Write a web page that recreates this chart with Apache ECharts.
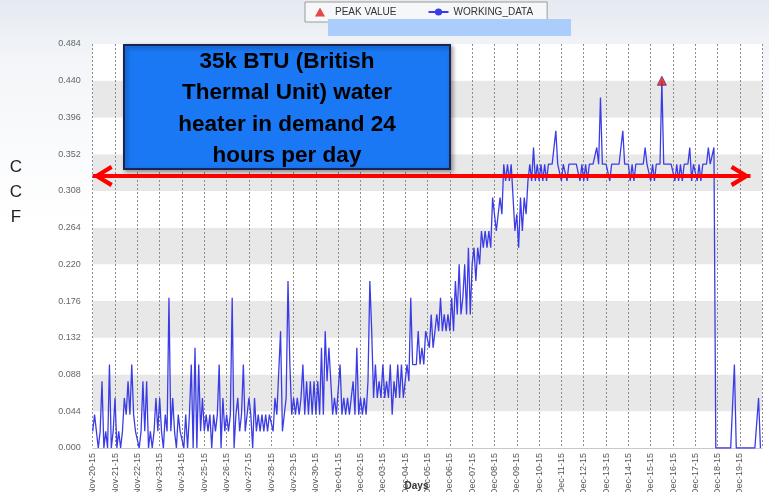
<!DOCTYPE html>
<html><head><meta charset="utf-8">
<script src="https://cdn.jsdelivr.net/npm/echarts@6/dist/echarts.min.js"></script>
<style>html,body{margin:0;padding:0;background:#fff;}#c{width:769px;height:492px;}</style>
</head><body><div id="c"></div>
<script>
// ---- data ----
const dayLabels = ['Nov-20-15','Nov-21-15','Nov-22-15','Nov-23-15','Nov-24-15','Nov-25-15','Nov-26-15','Nov-27-15','Nov-28-15','Nov-29-15','Nov-30-15',
  'Dec-01-15','Dec-02-15','Dec-03-15','Dec-04-15','Dec-05-15','Dec-06-15','Dec-07-15','Dec-08-15','Dec-09-15','Dec-10-15',
  'Dec-11-15','Dec-12-15','Dec-13-15','Dec-14-15','Dec-15-15','Dec-16-15','Dec-17-15','Dec-18-15','Dec-19-15'];
const samplesPerDay = 12; // one reading every 2 hours
const workingData = [
  0.02,0.04,0.02,0,0.02,0.08,0,0.02,0,0.10,0,0.02,
  0.06,0,0.02,0,0.02,0.06,0.04,0.08,0.04,0.10,0.04,0.02,
  0.02,0,0.02,0.08,0.02,0.08,0,0.02,0,0.02,0.06,0.02,
  0.06,0.02,0,0.04,0.02,0.18,0.02,0.06,0.02,0,0.04,0.02,
  0.02,0,0.04,0,0.04,0.10,0,0.12,0,0.10,0.02,0.06,
  0.02,0.04,0.02,0.04,0,0.04,0.02,0.04,0.10,0,0.06,0.02,
  0.04,0.02,0.04,0.18,0,0.04,0.06,0.02,0.04,0.10,0.02,0.04,
  0.06,0.04,0,0.06,0.02,0.04,0.02,0.04,0.02,0.04,0.02,0.04,
  0.04,0.02,0.06,0.04,0.04,0.14,0.02,0.04,0.06,0.20,0.10,0.04,
  0.06,0.04,0.06,0.04,0.06,0.10,0.04,0.08,0.04,0.08,0.04,0.08,
  0.04,0.08,0.04,0.12,0.04,0.14,0.08,0.12,0.08,0.04,0.06,0.04,
  0.04,0.10,0.04,0.06,0.04,0.06,0.04,0.06,0.08,0.04,0.12,0.04,
  0.06,0.04,0.06,0.04,0.08,0.20,0.14,0.06,0.10,0.06,0.08,0.06,
  0.10,0.06,0.08,0.06,0.10,0.04,0.08,0.06,0.10,0.06,0.10,0.06,
  0.08,0.10,0.08,0.18,0.10,0.10,0.10,0.14,0.10,0.12,0.10,0.14,
  0.14,0.12,0.16,0.12,0.14,0.16,0.14,0.18,0.14,0.16,0.14,0.16,
  0.14,0.18,0.14,0.20,0.16,0.22,0.16,0.18,0.22,0.16,0.24,0.16,
  0.22,0.24,0.20,0.24,0.22,0.26,0.24,0.26,0.24,0.26,0.24,0.30,
  0.28,0.26,0.28,0.30,0.28,0.34,0.32,0.34,0.32,0.34,0.30,0.26,
  0.28,0.24,0.30,0.26,0.30,0.28,0.32,0.34,0.32,0.36,0.32,0.34,
  0.32,0.34,0.32,0.34,0.32,0.34,0.34,0.34,0.34,0.38,0.34,0.34,
  0.32,0.34,0.34,0.32,0.34,0.34,0.34,0.34,0.34,0.34,0.32,0.34,
  0.32,0.34,0.32,0.34,0.34,0.34,0.34,0.36,0.34,0.42,0.34,0.34,
  0.34,0.34,0.32,0.34,0.34,0.34,0.34,0.34,0.36,0.38,0.34,0.34,
  0.34,0.32,0.34,0.32,0.34,0.34,0.34,0.34,0.34,0.36,0.34,0.34,
  0.32,0.34,0.32,0.34,0.34,0.34,0.44,0.34,0.34,0.34,0.34,0.34,
  0.34,0.32,0.34,0.32,0.34,0.32,0.34,0.34,0.34,0.36,0.32,0.34,
  0.34,0.32,0.34,0.32,0.34,0.34,0.34,0.36,0.34,0.34,0.36,0,
  0,0,0,0,0,0,0,0,0,0.10,0,0,
  0,0,0,0,0,0,0,0,0,0,0.06,0
];
const yMax = 0.484, yStep = 0.044;
const arrowLevel = 0.326, arrowFromDay = 0, arrowToDay = 29.47;
const boxLines = ['35k BTU (British', 'Thermal Unit) water', 'heater in demand 24', 'hours per day'];
const yAxisLetters = ['C', 'C', 'F'];

// ---- build ----
const linePts = workingData.map((v, i) => [i / samplesPerDay, v]);
let peakIdx = 0;
workingData.forEach((v, i) => { if (v > workingData[peakIdx]) peakIdx = i; });
const peakPts = [linePts[peakIdx]];
// open chevron whose tip sits at the symbol centre (degenerate first sub-path only extends the box)
const chevron = 'path://M10,-19 L10.01,-19 L10,-19 Z M0,17 L10,0 L20,17 L16.5,19 L10,7.5 L3.5,19 Z';
const triIcon = 'path://M5,0 L10,9 L0,9 Z';

const chart = echarts.init(document.getElementById('c'), null, {renderer: 'canvas'});
chart.setOption({
  animation: false,
  backgroundColor: {type: 'linear', x: 0, y: 0, x2: 0, y2: 1, colorStops: [
    {offset: 0, color: '#e5eaf1'}, {offset: 0.12, color: '#f3f5f8'}, {offset: 0.45, color: '#ffffff'}, {offset: 1, color: '#ffffff'}]},
  textStyle: {fontFamily: 'Liberation Sans, Arial, sans-serif'},
  grid: {left: 92.7, right: 6.7, top: 44, bottom: 44, containLabel: false, outerBoundsMode: 'none'},
  legend: {
    left: 305, top: 2, orient: 'horizontal',
    padding: [5, 14, 5, 10], itemGap: 31, itemWidth: 20, itemHeight: 9,
    borderColor: '#9a9a9a', borderWidth: 1, backgroundColor: '#f6f7f9',
    textStyle: {fontSize: 10, color: '#333'},
    data: [
      {name: 'PEAK VALUE', icon: triIcon, itemStyle: {color: '#e41a1a', borderWidth: 0}},
      {name: 'WORKING_DATA'}
    ]
  },
  xAxis: {
    type: 'value', min: 0, max: 30, interval: 1,
    name: 'Days', nameLocation: 'middle', nameGap: 33, nameMoveOverlap: false,
    nameTextStyle: {fontSize: 10, fontWeight: 'bold', color: '#333', padding: [0, 22, 0, 0]},
    axisLine: {show: true, lineStyle: {color: '#c8c8c8'}},
    axisTick: {show: false},
    axisLabel: {rotate: 90, fontSize: 9, color: '#555', margin: 5,
      formatter: v => dayLabels[Math.round(v)] || ''},
    splitLine: {show: true, lineStyle: {color: '#8c8c8c', width: 1, type: [2, 2]}}
  },
  yAxis: {
    type: 'value', min: 0, max: yMax, interval: yStep,
    axisLine: {show: false}, axisTick: {show: false},
    axisLabel: {fontSize: 9, color: '#666', margin: 12, formatter: v => v.toFixed(3)},
    splitLine: {show: false},
    splitArea: {show: true, areaStyle: {color: ['rgba(255,255,255,0.95)', '#e8e8e8']}}
  },
  series: [
    {
      name: 'PEAK VALUE', type: 'scatter', data: peakPts, symbol: 'triangle', symbolSize: 9,
      itemStyle: {color: '#e41a1a', borderColor: '#6a2a6a', borderWidth: 1}, z: 5
    },
    {
      name: 'WORKING_DATA', type: 'line', data: linePts, showSymbol: false, symbol: 'circle', symbolSize: 6,
      lineStyle: {color: '#3c3ce6', width: 1.3}, itemStyle: {color: '#3c3ce6'},
      markLine: {
        silent: true, symbol: [chevron, chevron], symbolSize: [22, 40],
        label: {show: false},
        lineStyle: {color: '#ff0000', width: 4, type: 'solid', opacity: 1},
        emphasis: {disabled: true},
        data: [[{coord: [arrowFromDay, arrowLevel]}, {coord: [arrowToDay, arrowLevel]}]]
      }
    }
  ],
  graphic: [
    {type: 'rect', left: 328, top: 19, z: 100, shape: {width: 243, height: 17}, style: {fill: '#abcdfc'}},
    {type: 'rect', z: 100, shape: {x: 124, y: 45, width: 326, height: 124},
      style: {fill: '#1a78f5', stroke: '#1b2550', lineWidth: 2, shadowBlur: 4, shadowOffsetX: 2, shadowOffsetY: 2, shadowColor: 'rgba(0,0,0,0.35)'}},
    {type: 'text', z: 101, x: 287, y: 109, style: {text: boxLines.join('\n'), fill: '#000', font: 'bold 22.5px "Liberation Sans", Arial, sans-serif',
      lineHeight: 31.5, align: 'center', verticalAlign: 'middle'}},
    {type: 'text', x: 16, y: 192, z: 100, style: {text: yAxisLetters.join('\n'), fill: '#222', font: '17px "Liberation Sans", Arial, sans-serif',
      lineHeight: 25, align: 'center', verticalAlign: 'middle'}}
  ]
});
</script>
</body></html>
